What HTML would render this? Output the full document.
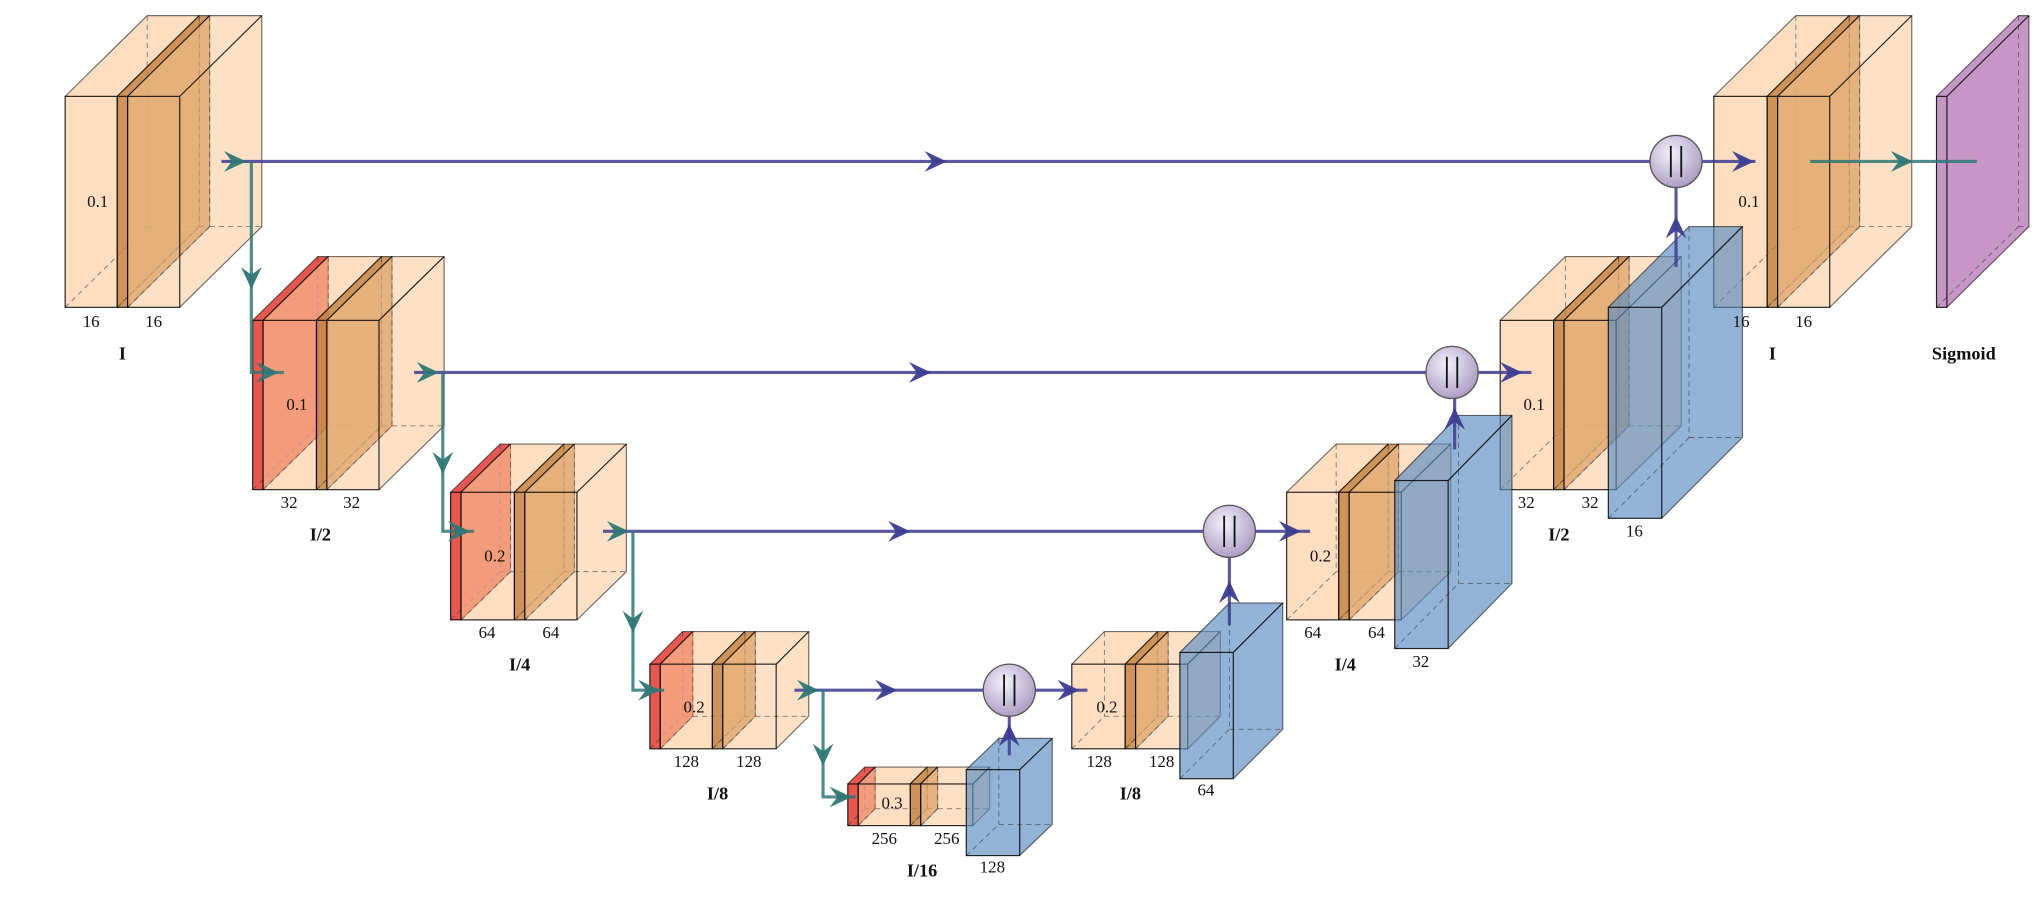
<!DOCTYPE html>
<html><head><meta charset="utf-8">
<style>
html,body{margin:0;padding:0;background:#fff;}
svg{display:block;}
text{font-family:"Liberation Serif",serif;fill:#111;}
.n{font-size:13px;}
.b{font-size:14px;font-weight:bold;}
</style></head>
<body>
<svg id="s" width="2042" height="922" viewBox="0 0 1568 708" xmlns="http://www.w3.org/2000/svg">
<defs>
<radialGradient id="cg" cx="0.4" cy="0.35" r="0.7">
<stop offset="0" stop-color="#f4f0fa"/><stop offset="1" stop-color="#a898c0"/>
</radialGradient>
</defs>
<g id="g"></g>
<g id="labels">
<text class="n" x="75" y="159" text-anchor="middle">0.1</text>
<text class="n" x="70" y="251" text-anchor="middle">16</text>
<text class="n" x="118" y="251" text-anchor="middle">16</text>
<text class="b" x="94" y="276" text-anchor="middle">I</text>
<text class="n" x="228" y="315" text-anchor="middle">0.1</text>
<text class="n" x="222" y="390" text-anchor="middle">32</text>
<text class="n" x="270" y="390" text-anchor="middle">32</text>
<text class="b" x="246" y="415" text-anchor="middle">I/2</text>
<text class="n" x="380" y="431" text-anchor="middle">0.2</text>
<text class="n" x="374" y="490" text-anchor="middle">64</text>
<text class="n" x="423" y="490" text-anchor="middle">64</text>
<text class="b" x="399" y="515" text-anchor="middle">I/4</text>
<text class="n" x="533" y="547" text-anchor="middle">0.2</text>
<text class="n" x="527" y="589" text-anchor="middle">128</text>
<text class="n" x="575" y="589" text-anchor="middle">128</text>
<text class="b" x="551" y="614" text-anchor="middle">I/8</text>
<text class="n" x="685" y="621" text-anchor="middle">0.3</text>
<text class="n" x="679" y="648" text-anchor="middle">256</text>
<text class="n" x="727" y="648" text-anchor="middle">256</text>
<text class="b" x="708" y="673" text-anchor="middle">I/16</text>
<text class="n" x="762" y="670" text-anchor="middle">128</text>
<text class="n" x="850" y="547" text-anchor="middle">0.2</text>
<text class="n" x="844" y="589" text-anchor="middle">128</text>
<text class="n" x="892" y="589" text-anchor="middle">128</text>
<text class="b" x="868" y="614" text-anchor="middle">I/8</text>
<text class="n" x="926" y="611" text-anchor="middle">64</text>
<text class="n" x="1014" y="431" text-anchor="middle">0.2</text>
<text class="n" x="1008" y="490" text-anchor="middle">64</text>
<text class="n" x="1057" y="490" text-anchor="middle">64</text>
<text class="b" x="1033" y="515" text-anchor="middle">I/4</text>
<text class="n" x="1091" y="512" text-anchor="middle">32</text>
<text class="n" x="1178" y="315" text-anchor="middle">0.1</text>
<text class="n" x="1172" y="390" text-anchor="middle">32</text>
<text class="n" x="1221" y="390" text-anchor="middle">32</text>
<text class="b" x="1197" y="415" text-anchor="middle">I/2</text>
<text class="n" x="1255" y="412" text-anchor="middle">16</text>
<text class="n" x="1343" y="159" text-anchor="middle">0.1</text>
<text class="n" x="1337" y="251" text-anchor="middle">16</text>
<text class="n" x="1385" y="251" text-anchor="middle">16</text>
<text class="b" x="1361" y="276" text-anchor="middle">I</text>
<text class="b" x="1508" y="276" text-anchor="middle">Sigmoid</text>
</g>
</svg>
<script>
var G=document.getElementById('g'),NS='http://www.w3.org/2000/svg';
function el(t,a){var e=document.createElementNS(NS,t);for(var k in a)e.setAttribute(k,a[k]);G.appendChild(e);return e;}
function P(pts){return pts.map(function(p){return p[0]+','+p[1]}).join(' ');}
function box(a,b,y0,y1,dx,dy,fill,op){
  var st={fill:fill,'fill-opacity':op,stroke:'none'};
  el('polygon',Object.assign({points:P([[a,y0],[a+dx,y0+dy],[b+dx,y0+dy],[b,y0]])},st));
  el('polygon',Object.assign({points:P([[b,y0],[b+dx,y0+dy],[b+dx,y1+dy],[b,y1]])},st));
  el('rect',Object.assign({x:a,y:y0,width:b-a,height:y1-y0},st));
  var d={stroke:'#333','stroke-width':0.6,'stroke-dasharray':'4,3',fill:'none','stroke-opacity':0.7};
  el('line',Object.assign({x1:a+dx,y1:y0+dy,x2:a+dx,y2:y1+dy},d));
  el('line',Object.assign({x1:a+dx,y1:y1+dy,x2:b+dx,y2:y1+dy},d));
  el('line',Object.assign({x1:a,y1:y1,x2:a+dx,y2:y1+dy},d));
  var s={stroke:'#000','stroke-width':0.9,fill:'none','stroke-opacity':0.85};
  el('rect',Object.assign({x:a,y:y0,width:b-a,height:y1-y0},s));
  el('polyline',Object.assign({points:P([[a,y0],[a+dx,y0+dy],[b+dx,y0+dy],[b+dx,y1+dy],[b,y1]])},s,{'stroke-opacity':0.55}));
  el('line',Object.assign({x1:b,y1:y0,x2:b+dx,y2:y0+dy},s));
}
var PE='#fcc898',BA='#c07f3e',RD='#e03a30',BL='#5a8bc0';
function block(r,a,band,bs,be,y0,y1,dx,dy){
  if(r!==null) box(r,a,y0,y1,dx,dy,RD,0.85);
  box(a,band,y0,y1,dx,dy,PE,0.6);
  box(band,bs,y0,y1,dx,dy,BA,0.8);
  box(bs,be,y0,y1,dx,dy,PE,0.55);
}
block(null,50,90,98,138,74,236,63,-62);
block(194,202,243,251,291,246,376,50,-49);
block(346,354,395,403,443,378,476,38,-37);
block(499,507,547,555,596,510,575,25,-25);
block(651,659,699,707,747,602,634,13,-13);
block(null,823,864,872,912,510,575,25,-25);
block(null,988,1028,1036,1076,378,476,38,-37);
block(null,1152,1193,1201,1241,246,376,50,-49);
block(null,1316,1357,1365,1405,74,236,63,-62);
box(742,783,591,657,25,-24,BL,0.66);
box(906,947,501,598,38,-38,BL,0.66);
box(1071,1112,369,498,49,-50,BL,0.66);
box(1235,1276,236,398,62,-62,BL,0.66);
box(1487,1495,74,236,63,-62,'#a860a8',0.65);

var BLU='#3c3c90',TEA='#2f7775';
function line(pts,c){el('polyline',{points:P(pts),fill:'none',stroke:c,'stroke-width':2.4,'stroke-opacity':0.85});}
function arr(x,y,ux,uy,c){var nx=-uy,ny=ux;
  el('polygon',{points:P([[x+ux*9,y+uy*9],[x-ux*8+nx*8,y-uy*8+ny*8],[x-ux*2,y-uy*2],[x-ux*8-nx*8,y-uy*8-ny*8]]),fill:c,'fill-opacity':0.95});}
function circ(x,y){el('ellipse',{cx:x,cy:y,rx:20,ry:20,fill:'url(#cg)',stroke:'#555','stroke-width':1});
  el('line',{x1:x-4,y1:y-12,x2:x-4,y2:y+12,stroke:'#111','stroke-width':1.4});
  el('line',{x1:x+4,y1:y-12,x2:x+4,y2:y+12,stroke:'#111','stroke-width':1.4});}
var sk=[[124,170,1287,718,1348,1338],[286,318,1115,706,1176,1160],[408,463,944,690,1006,990],[530,610,775,680,835,820]];
sk.forEach(function(s){line([[s[1],s[0]],[s[2]-20,s[0]]],BLU);line([[s[2]+20,s[0]],[s[4],s[0]]],BLU);arr(s[3],s[0],1,0,BLU);arr(s[5],s[0],1,0,BLU);});
var td=[[193,124,286,218,180,205],[340,286,408,364,328,352],[486,408,530,510,474,498],[632,530,612,657,620,645]];
td.forEach(function(t){line([[t[0],t[1]],[t[0],t[2]],[t[3],t[2]]],TEA);arr(t[4],t[1],1,0,TEA);arr(t[0],(t[1]+t[2])/2+8,0,1,TEA);arr(t[5],t[2],1,0,TEA);});
[[775,580,550,565],[944,480,428,455],[1117,345,306,322],[1287,205,144,175]].forEach(function(u){line([[u[0],u[1]],[u[0],u[2]]],BLU);arr(u[0],u[3],0,-1,BLU);});
[[1287,124],[1115,286],[944,408],[775,530]].forEach(function(c){circ(c[0],c[1]);});
line([[1390,124],[1518,124]],TEA);arr(1460,124,1,0,TEA);
</script>
</body></html>
